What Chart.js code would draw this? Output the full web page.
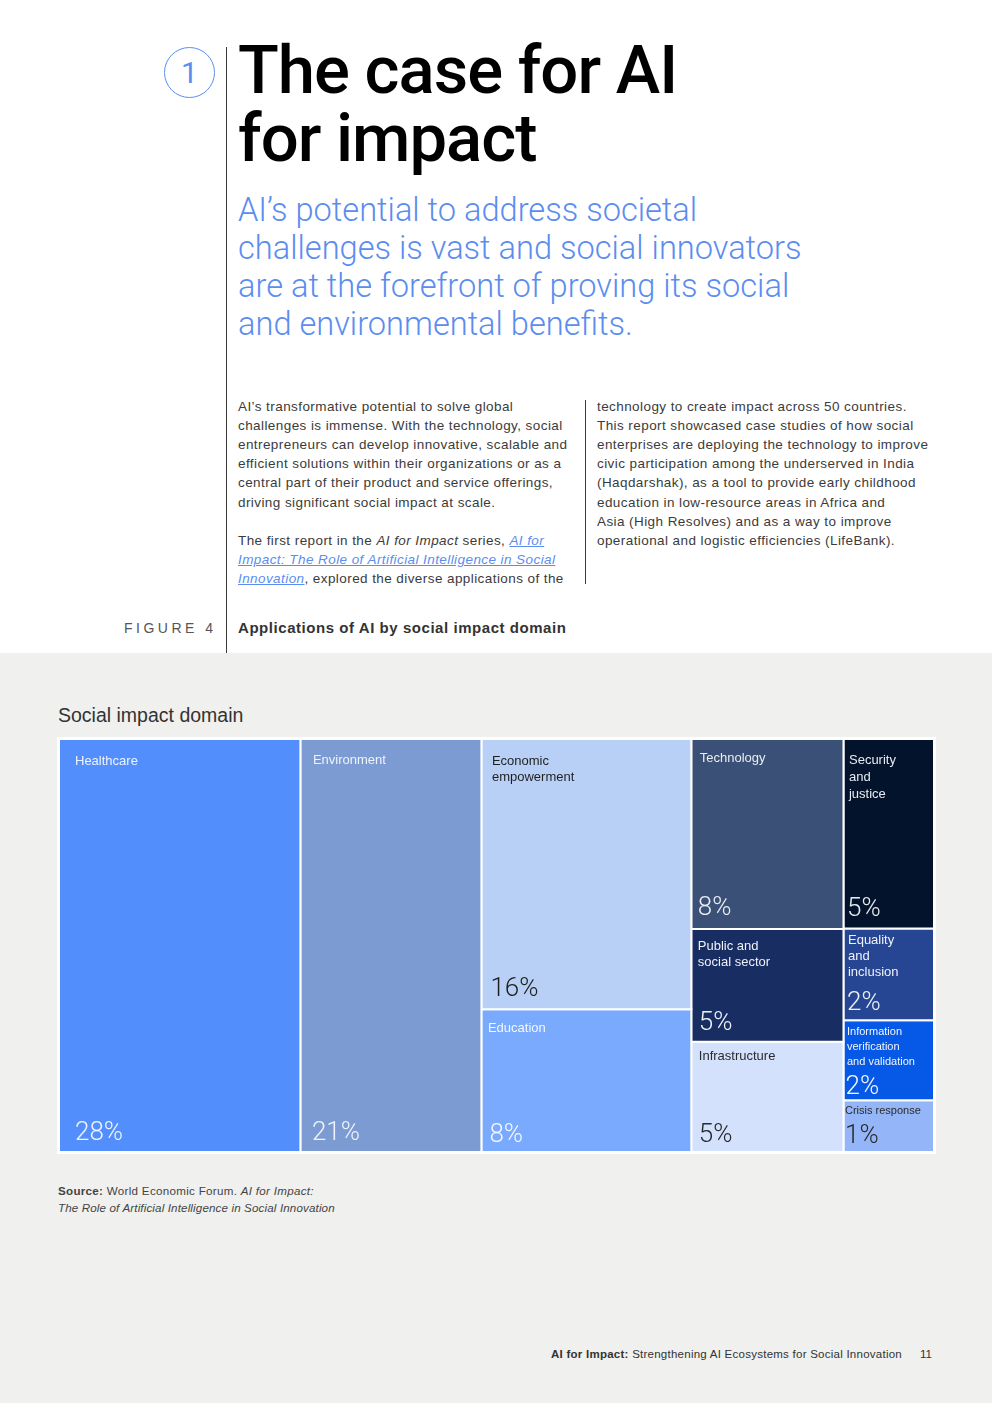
<!DOCTYPE html>
<html><head><meta charset="utf-8">
<script src="https://cdn.jsdelivr.net/npm/chart.js@4.4.1/dist/chart.umd.min.js"></script>
<style>
html,body{margin:0;padding:0;}
body{width:992px;height:1403px;position:relative;background:#fff;overflow:hidden;font-family:'Liberation Sans',Arial,sans-serif;color:#333;}
.abs{position:absolute;white-space:nowrap;}
.body{font-size:13.5px;line-height:19.2px;color:#3b3b3b;letter-spacing:0.42px;}
.lnk{color:#5b8def;font-style:italic;text-decoration:underline;}
</style></head><body>
<div class="abs" style="left:0;top:653px;width:992px;height:750px;background:#f0f0ee"></div>
<div class="abs" style="left:164px;top:47px;width:49px;height:49px;border:1px solid #5b8def;border-radius:50%;"></div>
<div class="abs" style="left:164px;top:47px;width:51px;height:51px;text-align:center;font:400 30px/51px Roboto,'Liberation Sans';color:#5b8def">1</div>
<div class="abs" style="left:226px;top:47px;width:1px;height:606px;background:#3a3a3a"></div>
<div class="abs" style="left:238px;top:36px;font:500 67px/68px Roboto,'Liberation Sans';letter-spacing:-1px;color:#000">The case for AI<br>for impact</div>
<div class="abs" style="left:238px;top:191px;font:300 32.6px/38px Roboto,'Liberation Sans';color:#5b8def">AI’s potential to address societal<br>challenges is vast and social innovators<br>are at the forefront of proving its social<br>and environmental benefits.</div>
<div class="abs body" style="left:238px;top:396.5px">AI’s transformative potential to solve global<br>challenges is immense. With the technology, social<br>entrepreneurs can develop innovative, scalable and<br>efficient solutions within their organizations or as a<br>central part of their product and service offerings,<br>driving significant social impact at scale.<br><br>The first report in the <i>AI for Impact</i> series, <span class="lnk">AI for </span><br><span class="lnk">Impact: The Role of Artificial Intelligence in Social </span><br><span class="lnk">Innovation</span>, explored the diverse applications of the</div>
<div class="abs" style="left:585px;top:400px;width:1px;height:184px;background:#3a3a3a"></div>
<div class="abs body" style="left:597px;top:396.5px">technology to create impact across 50 countries.<br>This report showcased case studies of how social<br>enterprises are deploying the technology to improve<br>civic participation among the underserved in India<br>(Haqdarshak), as a tool to provide early childhood<br>education in low-resource areas in Africa and<br>Asia (High Resolves) and as a way to improve<br>operational and logistic efficiencies (LifeBank).</div>
<div class="abs" style="left:124px;top:618px;font:14px/20px 'Liberation Sans';letter-spacing:3.5px;color:#555">FIGURE 4</div>
<div class="abs" style="left:238px;top:618px;font:700 15px/20px 'Liberation Sans';letter-spacing:0.55px;color:#333">Applications of AI by social impact domain</div>
<div class="abs" style="left:58px;top:703px;font:19.5px/24px 'Liberation Sans';color:#333">Social impact domain</div>
<div class="abs" style="left:57px;top:737px;width:879px;height:417px;background:#fff"><canvas id="c" width="879" height="417"></canvas></div>
<div class="abs" style="left:58px;top:1181.5px;font:11.6px/17px 'Liberation Sans';letter-spacing:0.3px;color:#444"><b>Source:</b> World Economic Forum. <i>AI for Impact:</i><br><i style="letter-spacing:0.14px">The Role of Artificial Intelligence in Social Innovation</i></div>
<div class="abs" style="right:90px;top:1346px;font:11.5px/16px 'Liberation Sans';letter-spacing:0.25px;color:#333;text-align:right"><b style="font-weight:700">AI for Impact:</b> Strengthening AI Ecosystems for Social Innovation</div>
<div class="abs" style="left:920px;top:1346px;font:11.5px/16px 'Liberation Sans';color:#333">11</div>
<script>
// ---- data ----
const categories = [
  ['Healthcare'], ['Environment'], ['Economic', 'empowerment'], ['Education'],
  ['Technology'], ['Public and', 'social sector'], ['Infrastructure'],
  ['Security', 'and', 'justice'], ['Equality', 'and', 'inclusion'],
  ['Information', 'verification', 'and validation'], ['Crisis response']
];
const shares = [27.6, 20.7, 15.7, 8.3, 8.0, 4.75, 4.65, 4.75, 2.3, 2.0, 1.3];
const columnOf = [0, 1, 2, 2, 3, 3, 3, 4, 4, 4, 4];
const pctLabels = ['28%', '21%', '16%', '8%', '8%', '5%', '5%', '5%', '2%', '2%', '1%'];

// ---- styles ----
const colors = ['#538ffc', '#7c9bd2', '#b9d0f6', '#79aafd', '#3b5076', '#182d62', '#d3e1fd', '#03132c', '#264693', '#0658e6', '#94b6f9'];
const textColors = ['#eef3fd', '#eef2f9', '#1f1f1f', '#f3f7ff', '#e9ecf2', '#eef1f7', '#2a2a2a', '#e8ebf0', '#eef1f7', '#f3f6fd', '#2a2a2a'];
const labelStyle = [
  {dx:16, dy:22.5, lh:16, size:13, px:16, pb:12},
  {dx:12.5, dy:21.5, lh:16, size:13, px:11.5, pb:12},
  {dx:10.5, dy:22.5, lh:16, size:13, px:9, pb:13},
  {dx:6.5, dy:19.7, lh:16, size:13, px:8, pb:10.3},
  {dx:8.5, dy:19.5, lh:16, size:13, px:6.5, pb:13.8},
  {dx:6.5, dy:17.2, lh:16.5, size:13, px:7.5, pb:11.5},
  {dx:7.5, dy:15, lh:16, size:13, px:7.5, pb:10},
  {dx:5.5, dy:21.5, lh:17, size:13, px:3.5, pb:12.3},
  {dx:4.5, dy:11.5, lh:16, size:13, px:3.5, pb:10.3},
  {dx:3.5, dy:11.5, lh:15, size:11, px:2, pb:6.3},
  {dx:1.5, dy:11, lh:15, size:11, px:1.5, pb:9.3}
];

// ---- treemap layout (slice by column) in data units 0..100 ----
const total = shares.reduce((a, b) => a + b, 0);
const nCols = Math.max(...columnOf) + 1;
const colSum = new Array(nCols).fill(0);
shares.forEach((v, i) => { colSum[columnOf[i]] += v; });
const colStart = []; let acc = 0;
for (let c = 0; c < nCols; c++) { colStart[c] = acc / total * 100; acc += colSum[c]; }
const colFill = new Array(nCols).fill(0);
const rects = shares.map((v, i) => {
  const c = columnOf[i];
  const x0 = colStart[c], x1 = x0 + colSum[c] / total * 100;
  const y0 = colFill[c] / colSum[c] * 100;
  colFill[c] += v;
  const y1 = colFill[c] / colSum[c] * 100;
  return {x0, x1, y0, y1};
});

const datasets = rects.map((r, i) => ({
  label: categories[i].join(' '),
  data: [{x:r.x0, y:r.y0}, {x:r.x1, y:r.y0}, {x:r.x1, y:r.y1}, {x:r.x0, y:r.y1}, {x:r.x0, y:r.y0}],
  showLine: true, fill: 'shape', backgroundColor: colors[i], borderColor: '#ffffff', borderWidth: 2,
  pointRadius: 0, pointHoverRadius: 0, tension: 0
}));

const labelPlugin = {
  id: 'treemapLabels',
  afterDatasetsDraw(chart) {
    const {ctx, scales: {x, y}} = chart;
    rects.forEach((r, i) => {
      const left = x.getPixelForValue(r.x0);
      const top = y.getPixelForValue(r.y0);
      const bottom = y.getPixelForValue(r.y1);
      const st = labelStyle[i];
      ctx.save();
      ctx.fillStyle = textColors[i];
      ctx.textAlign = 'left';
      ctx.textBaseline = 'middle';
      ctx.font = st.size + 'px "Liberation Sans", Arial, sans-serif';
      categories[i].forEach((line, k) => ctx.fillText(line, left + st.dx, top + st.dy + k * st.lh));
      ctx.textBaseline = 'alphabetic';
      ctx.font = '300 26px Roboto, "Liberation Sans", sans-serif';
      ctx.fillText(pctLabels[i], left + st.px, bottom - st.pb);
      ctx.restore();
    });
  }
};

new Chart(document.getElementById('c'), {
  type: 'scatter',
  data: {datasets},
  options: {
    responsive: false, animation: false, devicePixelRatio: 1, indexAxis: 'y',
    layout: {padding: 2},
    scales: {
      x: {type: 'linear', min: 0, max: 100, display: false},
      y: {type: 'linear', min: 0, max: 100, reverse: true, display: false}
    },
    elements: {line: {borderJoinStyle: 'miter', borderCapStyle: 'square'}},
    plugins: {legend: {display: false}, tooltip: {enabled: false}}
  },
  plugins: [labelPlugin]
});
</script>
</body></html>
